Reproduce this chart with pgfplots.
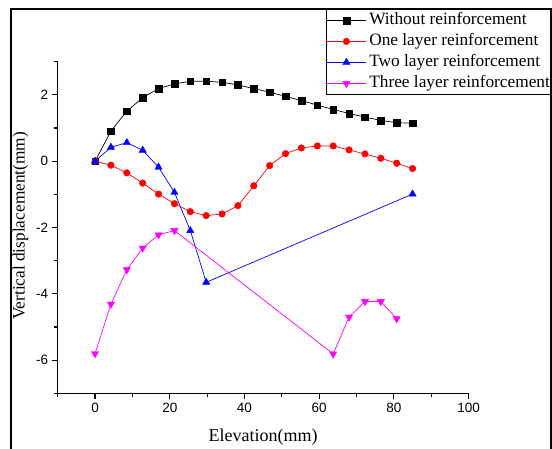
\documentclass[border=0pt]{standalone}
\usepackage{pgfplots}
\pgfplotsset{compat=1.18}
\usepackage{fontspec}
\setmainfont{Liberation Serif}
\newfontfamily\arialf{Liberation Sans}
\definecolor{mag}{RGB}{255,0,255}
\definecolor{rd}{RGB}{255,0,0}
\definecolor{bl}{RGB}{0,0,255}
\begin{document}
\begin{tikzpicture}
\begin{axis}[
  scale only axis, width=410.9pt, height=331.7pt,
  at={(57.7pt,-393.4pt)}, anchor=south west,
  xmin=-10, xmax=100, ymin=-7, ymax=3,
  axis x line*=bottom, axis y line*=left,
  axis line style={line width=1.3pt, -},
  xtick={0,20,...,100}, minor xtick={-10,10,...,90},
  ytick={-6,-4,...,2}, minor ytick={-7,-5,...,3},
  tick align=outside,
  major tick length=6pt, minor tick length=4pt,
  every tick/.append style={black, line width=1.2pt},
  ticklabel style={font=\arialf\fontsize{13.5}{13.5}\selectfont},
  /pgf/number format/assume math mode=true,
  xlabel={Elevation(mm)}, ylabel={Vertical displacement(mm)},
  label style={font=\fontsize{18}{18}\selectfont},
  xlabel style={at={(axis description cs:0.5,0)}, anchor=center, yshift=-43.3pt},
  ylabel style={font=\fontsize{17.3}{17.3}\selectfont, at={(axis description cs:-0.0905,0.505)}, anchor=center},
  legend cell align=left,
  legend style={at={(axis description cs:0.6522,1.1589)}, anchor=north west, draw=black, line width=0.8pt, inner xsep=0pt, inner ysep=0.5pt, font=\fontsize{17.3}{17.3}\selectfont, nodes={inner sep=2.5pt, text height=12pt, text depth=4pt}, row sep=0pt},
  legend image code/.code={\draw[mark repeat=2,mark phase=2] plot coordinates {(0pt,0pt) (20pt,0pt) (40pt,0pt)};},
]
\addplot[black, line width=0.7pt, mark=square*, mark size=3.3pt, mark options={solid, fill=black, line width=0.4pt}] coordinates {
(0,0) (4.25,0.906) (8.5,1.51) (12.75,1.915) (17,2.19) (21.25,2.33) (25.5,2.41) (29.75,2.41) (34,2.38) (38.25,2.30) (42.5,2.19) (46.75,2.08) (51,1.955) (55.25,1.83) (59.5,1.69) (63.75,1.56) (68,1.44) (72.25,1.33) (76.5,1.23) (80.75,1.16) (85,1.15)};
\addlegendentry{Without reinforcement}
\addplot[rd, line width=0.7pt, mark=*, mark size=3.3pt, mark options={solid, fill=rd, line width=0.4pt}] coordinates {
(0,0) (4.25,-0.12) (8.5,-0.35) (12.75,-0.66) (17,-0.99) (21.25,-1.28) (25.5,-1.52) (29.75,-1.64) (34,-1.59) (38.25,-1.34) (42.5,-0.74) (46.75,-0.13) (51,0.23) (55.25,0.40) (59.5,0.46) (63.75,0.46) (68,0.34) (72.25,0.22) (76.5,0.09) (80.75,-0.06) (85,-0.22)};
\addlegendentry{One layer reinforcement}
\addplot[bl, line width=0.7pt, mark=triangle*, mark size=4.2pt, mark options={solid, fill=bl, line width=0.4pt}] coordinates {
(0,0) (4.25,0.42) (8.5,0.56) (12.75,0.33) (17,-0.18) (21.25,-0.94) (25.5,-2.09) (29.75,-3.65) (85,-0.99)};
\addlegendentry{Two layer reinforcement}
\addplot[mag, line width=0.7pt, mark=triangle*, mark size=4.2pt, mark options={solid, fill=mag, line width=0.4pt, rotate=180}] coordinates {
(0,-5.8) (4.25,-4.31) (8.5,-3.27) (12.75,-2.62) (17,-2.22) (21.25,-2.09) (63.75,-5.81) (68,-4.70) (72.25,-4.23) (76.5,-4.23) (80.75,-4.75)};
\addlegendentry{Three layer reinforcement}
\end{axis}
\draw[line width=1.7pt] (11pt,-470pt) -- (11pt,-9.3pt) -- (550.8pt,-9.3pt) -- (550.8pt,-470pt);
\pgfresetboundingbox
\useasboundingbox (0,0) rectangle (552pt,-448pt);
\end{tikzpicture}
\end{document}
